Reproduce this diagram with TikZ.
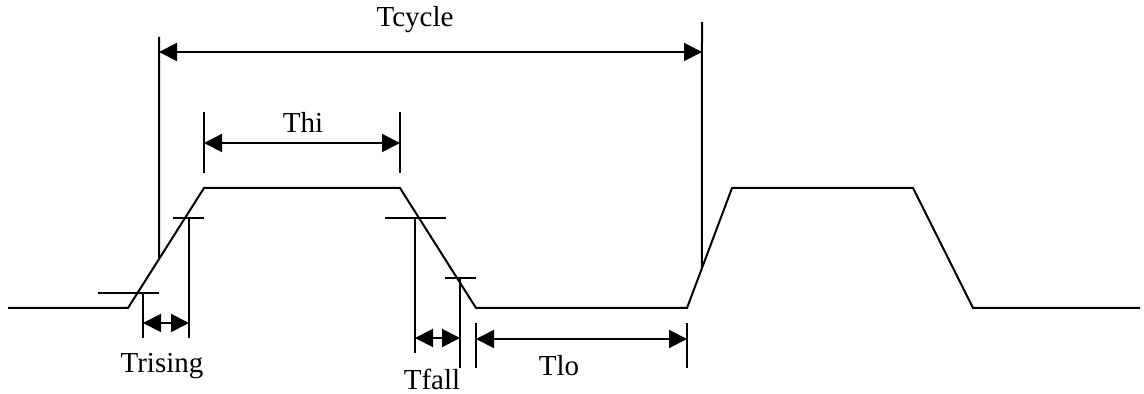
\documentclass[tikz,border=0pt]{standalone}
\usepackage{fontspec}
\setmainfont{Liberation Serif}
\usetikzlibrary{arrows.meta,calc}

\begin{document}
\begin{tikzpicture}[x=0.5pt,y=-0.5pt,line width=1pt,
    dim/.style={{Triangle[length=9pt,width=9pt]}-{Triangle[length=9pt,width=9pt]}},
    lbl/.style={font=\fontsize{14.5}{17}\selectfont,inner sep=0pt}]
        \useasboundingbox (0,0) rectangle (1144,394);
        % waveform
        \coordinate (w0) at (8,308);
        \coordinate (w1) at (128,308);
        \coordinate (w2) at (204,188);
        \coordinate (w3) at (400,188);
        \coordinate (w4) at (476,308);
        \coordinate (w5) at (687,308);
        \coordinate (w6) at (732,188);
        \coordinate (w7) at (913,188);
        \coordinate (w8) at (973,308);
        \coordinate (w9) at (1140,308);
        \draw (w0) -- (w1) -- (w2) -- (w3) -- (w4) -- (w5) -- (w6) -- (w7) -- (w8) -- (w9);

        % Tcycle
        \coordinate (cyctop1) at (159,37);
        \coordinate (cyctop2) at (702,22);
        \coordinate (cycbot1) at ($(w1)!0.41!(w2)$);
        \coordinate (cycbot2) at ($(w5)!0.33!(w6)$);
        \coordinate (cycA) at (159,52);
        \coordinate (cycB) at (702,52);
        \draw (cyctop1) -- (cycbot1);
        \draw (cyctop2) -- (cycbot2);
        \draw[dim] (cycA) -- (cycB);
        \node[lbl] (tcycle) at (415,20) {Tcycle};

        % Thi
        \coordinate (hitop1) at (204,112);
        \coordinate (hibot1) at (204,173);
        \coordinate (hitop2) at (400,112);
        \coordinate (hibot2) at (400,173);
        \coordinate (hiA) at (204,143);
        \coordinate (hiB) at (400,143);
        \draw (hitop1) -- (hibot1);
        \draw (hitop2) -- (hibot2);
        \draw[dim] (hiA) -- (hiB);
        \node[lbl] (thi) at (303,122) {Thi};

        % Trising
        \coordinate (rtick1a) at (98,293);
        \coordinate (rtick1b) at (159,293);
        \coordinate (rtick2a) at (173,218);
        \coordinate (rtick2b) at (204,218);
        \coordinate (rtop1) at (143,293);
        \coordinate (rbot1) at (143,338);
        \coordinate (rtop2) at (189,218);
        \coordinate (rbot2) at (189,338);
        \coordinate (rA) at (143,323);
        \coordinate (rB) at (189,323);
        \draw (rtick1a) -- (rtick1b);
        \draw (rtick2a) -- (rtick2b);
        \draw (rtop1) -- (rbot1);
        \draw (rtop2) -- (rbot2);
        \draw[dim] (rA) -- (rB);
        \node[lbl] (trising) at (162,366) {Trising};

        % Tfall
        \coordinate (ftick1a) at (385,218);
        \coordinate (ftick1b) at (446,218);
        \coordinate (ftick2a) at (445,278);
        \coordinate (ftick2b) at (476,278);
        \coordinate (ftop1) at (415,218);
        \coordinate (fbot1) at (415,353);
        \coordinate (ftop2) at (460,278);
        \coordinate (fbot2) at (460,368);
        \coordinate (fA) at (415,338);
        \coordinate (fB) at (460,338);
        \draw (ftick1a) -- (ftick1b);
        \draw (ftick2a) -- (ftick2b);
        \draw (ftop1) -- (fbot1);
        \draw (ftop2) -- (fbot2);
        \draw[dim] (fA) -- (fB);
        \node[lbl] (tfall) at (432,379) {Tfall};

        % Tlo
        \coordinate (lotop1) at (476,323);
        \coordinate (lobot1) at (476,368);
        \coordinate (lotop2) at (687,323);
        \coordinate (lobot2) at (687,368);
        \coordinate (loA) at (476,339);
        \coordinate (loB) at (687,339);
        \draw (lotop1) -- (lobot1);
        \draw (lotop2) -- (lobot2);
        \draw[dim] (loA) -- (loB);
        \node[lbl] (tlo) at (559,366) {Tlo};
    \end{tikzpicture}
\end{document}
